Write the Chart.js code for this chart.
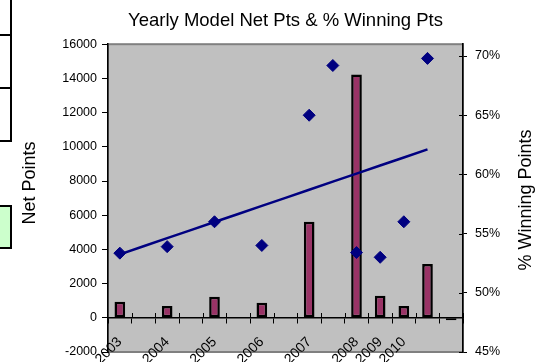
<!DOCTYPE html>
<html>
<head>
<meta charset="utf-8">
<title>Yearly Model Net Pts &amp; % Winning Pts</title>
<script src="https://cdn.jsdelivr.net/npm/chart.js@4/dist/chart.umd.min.js"></script>
<style>
  body { margin: 0; background: #fff; }
  #wrap { position: relative; width: 546px; height: 362px; overflow: hidden; }
  #chart { position: absolute; left: 0; top: 0; }
  .rule { position: absolute; background: #000; }
  .cellGreen { position: absolute; left: 0; top: 205px; width: 10px; height: 40px; background: #ccffcc; border: 2px solid #000; border-left: none; }
</style>
</head>
<body>
<div id="wrap">
  <canvas id="chart" width="546" height="362"></canvas>
  <!-- spreadsheet cells peeking in on the left -->
  <div class="rule" style="left:10px;top:0;width:2px;height:142px"></div>
  <div class="rule" style="left:0;top:34px;width:12px;height:2px"></div>
  <div class="rule" style="left:0;top:87px;width:12px;height:2px"></div>
  <div class="rule" style="left:0;top:140px;width:12px;height:2px"></div>
  <div class="cellGreen"></div>
</div>
<script>
const categories = ['2003', '', '2004', '', '2005', '', '2006', '', '2007', '', '2008', '2009', '2010', '', ''];
const netPoints = [940, null, 690, null, 1230, null, 880, null, 5620, null, 14230, 1290, 690, 3140, -150];
const winPct = [53.35, null, 53.9, null, 56.0, null, 54.0, null, 65.0, 69.2, 53.4, 53.0, 56.0, 69.8, null];

const chartTitle = 'Yearly Model Net Pts & % Winning Pts';
const leftTitle = 'Net Points';
const rightTitle = '% Winning Points';

const FONT = 'Arial, "Liberation Sans", sans-serif';

// linear trend of the win % against category position
function trendOf(values) {
  const pts = [];
  values.forEach((v, i) => { if (v != null) pts.push([i, v]); });
  const n = pts.length;
  const mx = pts.reduce((s, p) => s + p[0], 0) / n;
  const my = pts.reduce((s, p) => s + p[1], 0) / n;
  let sxy = 0, sxx = 0;
  pts.forEach(p => { sxy += (p[0] - mx) * (p[1] - my); sxx += (p[0] - mx) * (p[0] - mx); });
  const b = sxy / sxx, a = my - b * mx;
  const first = pts[0][0], last = pts[n - 1][0];
  return values.map((v, i) => (i >= first && i <= last) ? a + b * i : null);
}
const trendLine = trendOf(winPct);

// fixed axis widths; drop the label overhang so the plot keeps its height
function fixWidth(w) {
  return scale => {
    scale.width = w;
    scale.paddingTop = 0;
    scale.paddingBottom = 0;
  };
}

// grey plot area, cross tick stubs and the rotated axis titles
const plotFrame = {
  id: 'plotFrame',
  beforeDraw(chart) {
    const {ctx, chartArea: a} = chart;
    ctx.save();
    ctx.fillStyle = '#c0c0c0';
    ctx.fillRect(a.left, a.top, a.right - a.left, a.bottom - a.top);
    ctx.strokeStyle = '#808080';
    ctx.lineWidth = 2;
    ctx.strokeRect(a.left, a.top, a.right - a.left, a.bottom - a.top);
    ctx.restore();
  },
  afterDraw(chart) {
    const {ctx, chartArea: a, scales} = chart;
    ctx.save();
    ctx.strokeStyle = '#000';
    ctx.lineWidth = 1;
    // upper half of the category ticks on the zero line
    const zeroY = Math.round(scales.y.getPixelForValue(0));
    const step = (a.right - a.left) / categories.length;
    for (let i = 1; i <= categories.length; i++) {
      const x = Math.round(a.left + step * i) + 0.5;
      ctx.beginPath();
      ctx.moveTo(x, zeroY - 5);
      ctx.lineTo(x, zeroY);
      ctx.stroke();
    }
    // inner half of the right axis ticks
    scales.y1.ticks.forEach(t => {
      const y = Math.round(scales.y1.getPixelForValue(t.value)) + 0.5;
      ctx.beginPath();
      ctx.moveTo(a.right - 4, y);
      ctx.lineTo(a.right, y);
      ctx.stroke();
    });
    ctx.fillStyle = '#000';
    ctx.font = '18px ' + FONT;
    ctx.textAlign = 'center';
    ctx.textBaseline = 'middle';
    [[leftTitle, 30, 183], [rightTitle, 526, 200]].forEach(([txt, x, y]) => {
      ctx.save();
      ctx.translate(x, y);
      ctx.rotate(-Math.PI / 2);
      ctx.fillText(txt, 0, 0);
      ctx.restore();
    });
    ctx.restore();
  }
};

new Chart(document.getElementById('chart'), {
  data: {
    labels: categories,
    datasets: [
      {
        type: 'line',
        label: '% Winning Pts',
        data: winPct,
        yAxisID: 'y1',
        showLine: false,
        pointStyle: 'rectRot',
        pointRadius: 6,
        backgroundColor: '#000080',
        borderColor: '#000080',
        order: 0
      },
      {
        type: 'line',
        label: 'Trend',
        data: trendLine,
        yAxisID: 'y1',
        borderColor: '#000080',
        borderWidth: 2.5,
        pointRadius: 0,
        spanGaps: true,
        order: 1
      },
      {
        type: 'bar',
        label: 'Net Points',
        data: netPoints,
        yAxisID: 'y',
        backgroundColor: '#993366',
        borderColor: '#000',
        borderWidth: 2.5,
        borderSkipped: false,
        barPercentage: 0.45,
        categoryPercentage: 1,
        order: 2
      }
    ]
  },
  options: {
    responsive: false,
    animation: false,
    events: [],
    layout: { padding: { top: 0, bottom: 10, left: 0, right: 0 } },
    plugins: {
      legend: { display: false },
      tooltip: { enabled: false },
      title: {
        display: true,
        text: chartTitle,
        fullSize: false,
        color: '#000',
        font: { family: FONT, size: 18.5, weight: 'normal' },
        padding: { top: 10, bottom: 12 }
      }
    },
    scales: {
      x: {
        position: { y: 0 },
        offset: true,
        grid: { offset: true, drawOnChartArea: false, drawTicks: true, tickLength: 5, color: '#000' },
        border: { color: '#000', width: 1.5 },
        ticks: {
          autoSkip: false, minRotation: 45, maxRotation: 45, padding: 11,
          color: '#000', font: { family: FONT, size: 14 }
        }
      },
      y: {
        position: 'left',
        min: -2000,
        max: 16000,
        grid: { drawOnChartArea: false, tickLength: 6, color: '#000' },
        border: { color: '#000', width: 1.5 },
        ticks: {
          stepSize: 2000, padding: 5, color: '#000',
          font: { family: FONT, size: 12.5 },
          callback: v => String(v)
        },
        afterFit: fixWidth(108)
      },
      y1: {
        position: 'right',
        min: 45,
        max: 71,
        grid: { drawOnChartArea: false, tickLength: 4, color: '#000' },
        border: { color: '#000', width: 1.5 },
        ticks: {
          stepSize: 5, includeBounds: false, padding: 8, color: '#000',
          font: { family: FONT, size: 12.5 },
          callback: v => v + '%'
        },
        afterFit: fixWidth(83)
      }
    }
  },
  plugins: [plotFrame]
});
</script>
</body>
</html>
